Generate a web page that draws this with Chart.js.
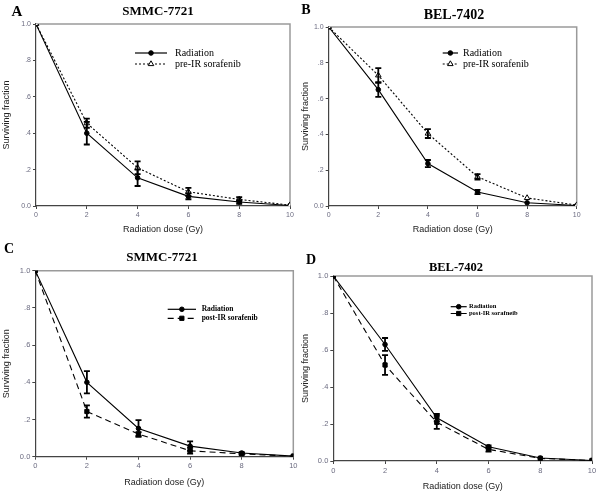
<!DOCTYPE html>
<html>
<head>
<meta charset="utf-8">
<script src="https://cdn.jsdelivr.net/npm/chart.js@4.4.0/dist/chart.umd.min.js"></script>
<style>
body { margin: 0; background: #fff; }
#wrap { position: relative; width: 600px; height: 497px; overflow: hidden; }
canvas { position: absolute; }
.lbl { position: absolute; font-family: "Liberation Serif", "Times New Roman", serif; font-weight: bold; color: #000; transform: translate(-50%, -50%); white-space: nowrap; }
</style>
</head>
<body>
<div id="wrap">
  <canvas id="cA" width="300" height="245" style="left:0;top:0"></canvas>
  <canvas id="cB" width="300" height="245" style="left:300px;top:0"></canvas>
  <canvas id="cC" width="300" height="249" style="left:0;top:248px"></canvas>
  <canvas id="cD" width="300" height="249" style="left:300px;top:248px"></canvas>

  <div class="lbl" style="left:17px;top:11px;font-size:15px">A</div>
  <div class="lbl" style="left:158px;top:11px;font-size:13px">SMMC-7721</div>
  <div class="lbl" style="left:306px;top:10px;font-size:14px">B</div>
  <div class="lbl" style="left:454px;top:15px;font-size:14px">BEL-7402</div>
  <div class="lbl" style="left:9px;top:249px;font-size:14px">C</div>
  <div class="lbl" style="left:162px;top:257px;font-size:13px">SMMC-7721</div>
  <div class="lbl" style="left:311px;top:260px;font-size:14px">D</div>
  <div class="lbl" style="left:456px;top:267px;font-size:12.5px">BEL-7402</div>
</div>
<script>
// doses (Gy)
const doses = [0, 2, 4, 6, 8, 10];

// A - SMMC-7721, pre-IR sorafenib
const aRad    = [1.0, 0.40, 0.155, 0.053, 0.022, 0.003];
const aRadErr = [0, 0.062, 0.045, 0.016, 0.01, 0];
const aPre    = [1.0, 0.455, 0.21, 0.078, 0.036, 0.005];
const aPreErr = [0, 0.025, 0.035, 0.022, 0.012, 0];

// B - BEL-7402, pre-IR sorafenib
const bRad    = [1.0, 0.65, 0.237, 0.078, 0.018, 0.003];
const bRadErr = [0, 0.04, 0.02, 0.012, 0, 0];
const bPre    = [1.0, 0.73, 0.405, 0.163, 0.045, 0.005];
const bPreErr = [0, 0.04, 0.025, 0.015, 0, 0];

// C - SMMC-7721, post-IR sorafenib
const cRad     = [1.0, 0.40, 0.152, 0.057, 0.02, 0.003];
const cRadErr  = [0, 0.06, 0.045, 0.025, 0.005, 0];
const cPost    = [1.0, 0.243, 0.122, 0.032, 0.015, 0.003];
const cPostErr = [0, 0.033, 0.01, 0.015, 0.005, 0];

// D - BEL-7402, post-IR sorafenib
const dRad     = [1.0, 0.63, 0.234, 0.077, 0.016, 0.003];
const dRadErr  = [0, 0.035, 0.02, 0.008, 0, 0];
const dPost    = [1.0, 0.519, 0.209, 0.063, 0.014, 0.003];
const dPostErr = [0, 0.053, 0.035, 0.012, 0, 0];

const yTicks = [0, 0.2, 0.4, 0.6, 0.8, 1.0];
const yTickText = ["0.0", ".2", ".4", ".6", ".8", "1.0"];

const pts = vals => doses.map((d, i) => ({x: d, y: vals[i]}));

function drawMarker(ctx, style, x, y, r, fill) {
  ctx.save();
  ctx.beginPath();
  if (style === 'triangle') {
    ctx.moveTo(x, y - r);
    ctx.lineTo(x - r * 0.866, y + r * 0.5);
    ctx.lineTo(x + r * 0.866, y + r * 0.5);
    ctx.closePath();
  } else if (style === 'rect') {
    const s = r * Math.SQRT1_2;
    ctx.rect(x - s, y - s, 2 * s, 2 * s);
  } else {
    ctx.arc(x, y, r, 0, Math.PI * 2);
  }
  ctx.fillStyle = fill;
  ctx.fill();
  ctx.strokeStyle = '#000';
  ctx.lineWidth = 1;
  ctx.stroke();
  ctx.restore();
}

const framePlugin = {
  id: 'frame',
  beforeDatasetsDraw(chart) {
    const a = chart.chartArea, ctx = chart.ctx;
    ctx.save();
    ctx.strokeStyle = '#9a9a9a';
    ctx.lineWidth = 1.5;
    ctx.beginPath();
    ctx.moveTo(a.left, a.top);
    ctx.lineTo(a.right, a.top);
    ctx.lineTo(a.right, a.bottom);
    ctx.stroke();
    ctx.restore();
  }
};

const errPlugin = {
  id: 'errbars',
  afterDatasetsDraw(chart) {
    const ctx = chart.ctx, xs = chart.scales.x, ys = chart.scales.y;
    ctx.save();
    ctx.strokeStyle = '#000';
    ctx.lineWidth = 1.8;
    chart.data.datasets.forEach(ds => {
      ds.err.forEach((e, i) => {
        if (!e) return;
        const v = ds.data[i].y;
        const x = xs.getPixelForValue(ds.data[i].x);
        const y1 = ys.getPixelForValue(v + e), y2 = ys.getPixelForValue(v - e);
        ctx.beginPath();
        ctx.moveTo(x, y1); ctx.lineTo(x, y2);
        ctx.moveTo(x - 3, y1); ctx.lineTo(x + 3, y1);
        ctx.moveTo(x - 3, y2); ctx.lineTo(x + 3, y2);
        ctx.stroke();
      });
    });
    ctx.restore();
  }
};

const legendPlugin = {
  id: 'inlegend',
  afterDraw(chart, args, opts) {
    const ctx = chart.ctx;
    chart.data.datasets.forEach((ds, i) => {
      const y = opts.ys[i];
      ctx.save();
      ctx.strokeStyle = '#000';
      ctx.lineWidth = 1.2;
      ctx.setLineDash(ds.borderDash || []);
      ctx.beginPath();
      ctx.moveTo(opts.x1, y); ctx.lineTo(opts.x2, y);
      ctx.stroke();
      ctx.restore();
      drawMarker(ctx, ds.pointStyle, (opts.x1 + opts.x2) / 2, y, ds.pointRadius, ds.pointBackgroundColor);
      ctx.save();
      ctx.fillStyle = '#000';
      ctx.font = opts.font;
      ctx.textBaseline = 'middle';
      ctx.fillText(ds.label, opts.tx, y);
      ctx.restore();
    });
  }
};

function series(label, vals, errs, style, dash, fill, order) {
  return {
    label: label,
    data: pts(vals),
    err: errs,
    borderColor: '#000',
    borderWidth: 1.1,
    borderDash: dash,
    pointStyle: style,
    pointRadius: style === 'rect' ? 3 : (style === 'triangle' ? 3.2 : 2.3),
    pointBackgroundColor: fill,
    pointBorderColor: '#000',
    pointBorderWidth: 1,
    tension: 0,
    fill: false,
    order: order
  };
}

function makePanel(id, p) {
  const lh = 10.8;
  const padLeft = Math.max(0, p.yTitleX - lh / 2);
  const padBottom = p.h - p.xTitleY - lh / 2;
  const tickFont = {family: '"Liberation Sans", Arial, sans-serif', size: p.tickSize};
  const titleFont = {family: '"Liberation Sans", Arial, sans-serif', size: 9};
  new Chart(document.getElementById(id), {
    type: 'line',
    data: {datasets: p.datasets},
    options: {
      responsive: false,
      animation: false,
      layout: {padding: {left: padLeft, top: p.top, right: p.w - p.right, bottom: padBottom}},
      plugins: {
        legend: {display: false},
        tooltip: {enabled: false},
        inlegend: p.legend
      },
      scales: {
        x: {
          type: 'linear', min: 0, max: 10,
          afterFit: s => { s.height = p.h - padBottom - p.bottom; },
          ticks: {stepSize: 2, font: tickFont, color: '#6b6b80', padding: 2, maxRotation: 0},
          grid: {drawOnChartArea: false, tickLength: 3, color: '#444'},
          border: {color: '#444', width: 1.2},
          title: {display: true, text: 'Radiation dose (Gy)', font: titleFont, color: '#222', padding: 0}
        },
        y: {
          type: 'linear', min: 0, max: 1,
          afterFit: s => { s.width = p.left - padLeft; },
          afterBuildTicks: s => { s.ticks = yTicks.map(v => ({value: v})); },
          ticks: {font: tickFont, color: '#6b6b80', padding: 2,
                  callback: v => yTickText[yTicks.findIndex(t => Math.abs(t - v) < 1e-6)]},
          grid: {drawOnChartArea: false, tickLength: 3, color: '#444'},
          border: {color: '#444', width: 1.2},
          title: {display: true, text: 'Surviving fraction', font: titleFont, color: '#222', padding: 0}
        }
      }
    },
    plugins: [framePlugin, errPlugin, legendPlugin]
  });
}

const serifLeg = '10px "Liberation Serif", "Times New Roman", serif';
const boldLeg = 'bold 7.5px "Liberation Serif", "Times New Roman", serif';
const boldLegSmall = 'bold 6.5px "Liberation Serif", "Times New Roman", serif';

makePanel('cA', {
  w: 300, h: 245, left: 36, top: 24, right: 290, bottom: 206,
  yTitleX: 7, xTitleY: 230, tickSize: 7,
  datasets: [
    series('Radiation', aRad, aRadErr, 'circle', [], '#000', 1),
    series('pre-IR sorafenib', aPre, aPreErr, 'triangle', [2, 2], '#fff', 0)
  ],
  legend: {x1: 135, x2: 167, tx: 175, ys: [53, 64], font: serifLeg}
});

makePanel('cB', {
  w: 300, h: 245, left: 28.7, top: 27, right: 276.7, bottom: 206,
  yTitleX: 4, xTitleY: 230, tickSize: 7,
  datasets: [
    series('Radiation', bRad, bRadErr, 'circle', [], '#000', 1),
    series('pre-IR sorafenib', bPre, bPreErr, 'triangle', [2, 2], '#fff', 0)
  ],
  legend: {x1: 142.7, x2: 158, tx: 163, ys: [53, 64], font: serifLeg}
});

makePanel('cC', {
  w: 300, h: 249, left: 35.3, top: 22.7, right: 293.3, bottom: 208.7,
  yTitleX: 7, xTitleY: 234.3, tickSize: 7.5,
  datasets: [
    series('Radiation', cRad, cRadErr, 'circle', [], '#000', 1),
    series('post-IR sorafenib', cPost, cPostErr, 'rect', [6, 4], '#000', 0)
  ],
  legend: {x1: 167.7, x2: 196, tx: 201.7, ys: [61.3, 70.3], font: boldLeg}
});

makePanel('cD', {
  w: 300, h: 249, left: 33.3, top: 28, right: 292, bottom: 213,
  yTitleX: 6, xTitleY: 239, tickSize: 7.5,
  datasets: [
    series('Radiation', dRad, dRadErr, 'circle', [], '#000', 1),
    series('post-IR sorafneib', dPost, dPostErr, 'rect', [6, 4], '#000', 0)
  ],
  legend: {x1: 150.7, x2: 166.7, tx: 169, ys: [58.7, 65.5], font: boldLegSmall}
});
</script>
</body>
</html>
